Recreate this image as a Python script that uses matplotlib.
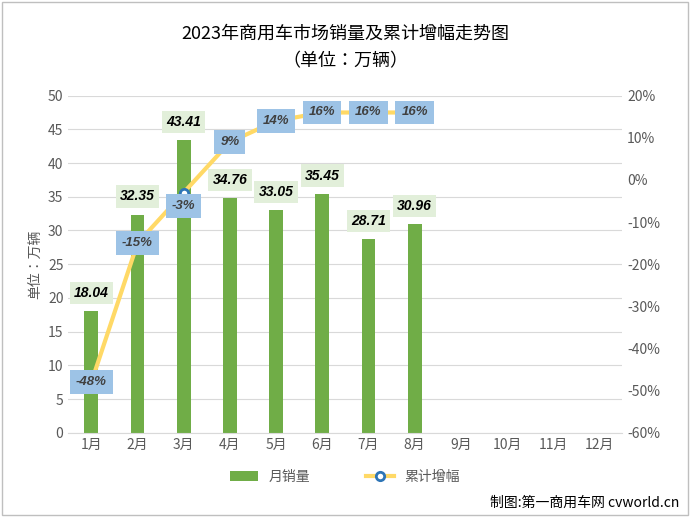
import matplotlib.pyplot as plt
import numpy as np
from matplotlib import font_manager
from matplotlib.patches import Rectangle

cjk = sorted({f.name for f in font_manager.fontManager.ttflist if 'CJK' in f.name and 'Sans' in f.name})
cjk_sc = [n for n in cjk if n.endswith('SC')]
plt.rcParams['font.family'] = (cjk_sc or cjk or ['Noto Sans CJK SC'])[:1] + ['DejaVu Sans']

months = ['1月', '2月', '3月', '4月', '5月', '6月', '7月', '8月', '9月', '10月', '11月', '12月']
sales = [18.04, 32.35, 43.41, 34.76, 33.05, 35.45, 28.71, 30.96]
growth = [-48, -15, -3, 9, 14, 16, 16, 16]

fig = plt.figure(figsize=(6.9, 5.17), dpi=100)
fig.patches.append(Rectangle((0.003, 0.003), 0.994, 0.994, transform=fig.transFigure,
                             fill=False, edgecolor='#bfbfbf', lw=1))
ax = fig.add_axes([0.099, 0.163, 0.803, 0.652])
ax2 = ax.twinx()

x = np.arange(len(months))
ax.bar(x[:len(sales)], sales, width=0.3, color='#70AD47', zorder=2, label='月销量')
ax.set_ylim(0, 50)
ax.set_yticks(range(0, 51, 5))
ax.set_xlim(-0.5, 11.5)
ax.set_xticks(x)
ax.set_xticklabels(months)
ax.grid(axis='y', color='#d9d9d9', lw=0.8, zorder=0)
for s in ['top', 'right', 'left']:
    ax.spines[s].set_visible(False)
ax.spines['bottom'].set_color('#d9d9d9')
ax.tick_params(length=0, colors='#595959', labelsize=10)
ax.set_ylabel('单位：万辆', color='#595959', fontsize=10)

for i, v in enumerate(sales):
    ax.text(i, v + 2.7, f'{v:.2f}', ha='center', va='center', fontsize=10, fontweight='bold',
            style='italic', color='black', family='Liberation Sans',
            bbox=dict(boxstyle='square,pad=0.3', fc='#E2EFDA', ec='none'), zorder=5)

gx = x[:len(growth)]
ax2.plot(gx, growth, color='#FFD966', lw=3, zorder=3, label='累计增幅',
         marker='o', markevery=[2], mfc='white', mec='#2E75B6', ms=6, mew=2)
ax2.set_ylim(-60, 20)
ax2.set_yticks(range(-60, 21, 10))
ax2.set_yticklabels([f'{t}%' for t in range(-60, 21, 10)])
for s in ['top', 'right', 'left', 'bottom']:
    ax2.spines[s].set_visible(False)
ax2.tick_params(length=0, colors='#595959', labelsize=10)
label_dy = [0, 0, -3.2, 0, 0, 0, 0, 0]
for i, v in enumerate(growth):
    ax2.text(i, v + label_dy[i], f'{v}%', ha='center', va='center', fontsize=9.5, fontweight='bold',
             style='italic', color='#404040', family='Liberation Sans',
             bbox=dict(boxstyle='square,pad=0.45', fc='#9DC3E6', ec='none'), zorder=6)

fig.text(0.5, 0.925, '2023年商用车市场销量及累计增幅走势图', ha='center', fontsize=13, color='black')
fig.text(0.5, 0.872, '（单位：万辆）', ha='center', fontsize=13, color='black')

h1, l1 = ax.get_legend_handles_labels()
h2, l2 = ax2.get_legend_handles_labels()
fig.legend(h1 + h2, l1 + l2, loc='center', bbox_to_anchor=(0.5, 0.078), ncol=2,
           frameon=False, fontsize=10, labelcolor='#595959', columnspacing=4)
fig.text(0.985, 0.02, '制图:第一商用车网 cvworld.cn', ha='right', fontsize=10, color='black')

fig.savefig('out.png', dpi=100)
